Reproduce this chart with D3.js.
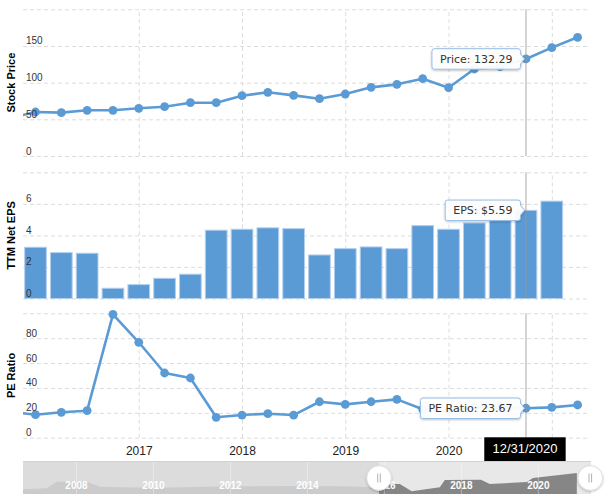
<!DOCTYPE html>
<html><head><meta charset="utf-8">
<script src="https://cdn.jsdelivr.net/npm/d3@7"></script>
<style>body{margin:0;background:#fff} svg{display:block}</style>
</head><body>
<svg id="c" width="608" height="499"></svg>
<script>
// ---------- data ----------
const quarters = ["12/31/2015","3/31/2016","6/30/2016","9/30/2016","12/31/2016","3/31/2017","6/30/2017","9/30/2017","12/31/2017","3/31/2018","6/30/2018","9/30/2018","12/31/2018","3/31/2019","6/30/2019","9/30/2019","12/31/2019","3/31/2020","6/30/2020","9/30/2020","12/31/2020","3/31/2021","6/30/2021"];
const price = [51.5,60.0,59.1,62.3,62.3,65.0,67.2,72.7,72.7,82.2,86.8,82.7,78.1,84.5,93.6,97.7,105.4,93.1,118.6,121.8,132.29,147.7,161.8];
const eps = [2.48,3.25,2.91,2.87,0.65,0.88,1.28,1.54,4.33,4.39,4.48,4.43,2.76,3.16,3.27,3.16,4.62,4.39,4.79,5.02,5.59,6.17,null];
const pe = [20.8,18.5,20.4,21.7,99.2,76.7,52.0,48.0,16.4,18.2,19.3,18.2,28.9,26.8,28.9,30.8,22.8,21.2,24.8,24.3,23.67,24.4,26.3];
const yearLabels = ["2017","2018","2019","2020","2021"];
const priceTicks = [0,50,100,150,200];
const epsTicks = [0,2,4,6,8];
const peTicks = [0,20,40,60,80,100];
const selectedDate = "12/31/2020";
// navigator (long history)
const navYears = [2006.61,2007.23,2007.49,2008.27,2008.61,2009.13,2010.17,2011.99,2013.99,2014.84,2015.62,2015.86,2016.40,2016.71,2017.44,2017.57,2018.51,2018.74,2019.70,2019.86,2021.00];
const navValues = [36,43,93,93,55,51,48,58,61,58,53,76,76,20,51,106,108,76,91,121,159];
const navLabels = [2008,2010,2012,2014,2016,2018,2020];
const navRange = [2015.86, 2021.35];

// ---------- setup ----------
const svg = d3.select("#c");
const SANS = "'Liberation Sans', Arial, sans-serif";
const TIP = "'DejaVu Sans', Verdana, sans-serif";
const BLUE = "#5b9bd5";
const L = 23, R = 588;
const x = d3.scaleLinear().domain([0, 22]).range([9.7, 577.6]);
const sel = quarters.indexOf(selectedDate);
const yearIdx = quarters.map((q,i)=>q.startsWith("3/31/") && +q.slice(-4) >= 2017 ? i : -1).filter(i=>i>=0);
const dateBox = {cx: x(sel) - 1, w: 81.4};

svg.append("defs").html(`
 <clipPath id="pc"><rect x="${L}" y="0" width="${R-L}" height="460"/></clipPath>
 <filter id="sh" x="-50%" y="-50%" width="200%" height="200%"><feDropShadow dx="0" dy="1" stdDeviation="1.2" flood-color="#000" flood-opacity="0.25"/></filter>
`);

const panels = [
  {title:"Stock Price", top:9.3, bottom:156, domain:[0,200], ticks:priceTicks, data:price, type:"line", fmt:v=>"Price: "+v.toFixed(2)},
  {title:"TTM Net EPS", top:172.3, bottom:298.5, domain:[0,8], ticks:epsTicks, data:eps, type:"bar", fmt:v=>"EPS: $"+v.toFixed(2)},
  {title:"PE Ratio", top:313.3, bottom:437.7, domain:[0,100], ticks:peTicks, data:pe, type:"line", fmt:v=>"PE Ratio: "+v.toFixed(2)}
];

const gridLayer = svg.append("g");
const plotLayer = svg.append("g");
const labelLayer = svg.append("g");

panels.forEach((p, pi) => {
  const y = d3.scaleLinear().domain(p.domain).range([p.bottom, p.top]);
  p.y = y;
  // horizontal grid
  const yg = gridLayer.append("g").attr("transform", `translate(${L},0)`)
    .call(d3.axisRight(y).tickValues(p.ticks).tickSize(R-L).tickFormat(""));
  yg.select(".domain").remove();
  yg.selectAll(".tick line").attr("stroke", "#dcdcdc").attr("stroke-dasharray", "4,3");
  // y labels (drawn above the marks)
  const yl = labelLayer.append("g").attr("transform", `translate(${L},0)`)
    .call(d3.axisRight(y).tickValues(p.ticks.filter(v => v !== p.domain[1])).tickSize(0));
  yl.select(".domain").remove();
  yl.selectAll(".tick text").attr("x", 3).attr("dy", -2).attr("text-anchor", "start")
    .attr("font-family", SANS).attr("font-size", 10).attr("fill", "#333");
  // vertical grid
  const xa = gridLayer.append("g").attr("transform", `translate(0,${p.bottom})`)
    .call(d3.axisBottom(x).tickValues(yearIdx).tickSize(-(p.bottom - p.top)).tickFormat(""));
  xa.select(".domain").remove();
  xa.selectAll(".tick line").attr("stroke", "#dcdcdc").attr("stroke-dasharray", "4,3");
  if (pi === 2) {
    // year labels; the one under the date box is hidden by it
    const visible = yearIdx.filter(i => Math.abs(x(i) - dateBox.cx) > dateBox.w / 2 + 14);
    const xl = labelLayer.append("g").attr("transform", `translate(0,${p.bottom})`)
      .call(d3.axisBottom(x).tickValues(visible).tickSize(0)
        .tickFormat(i => yearLabels[yearIdx.indexOf(i)]));
    xl.select(".domain").remove();
    xl.selectAll(".tick text").attr("y", 17.3).attr("dy", 0)
      .attr("font-family", SANS).attr("font-size", 12).attr("fill", "#222");
  }
  // title
  labelLayer.append("text").attr("transform", `translate(14.5,${(p.top+p.bottom)/2}) rotate(-90)`)
    .attr("text-anchor", "middle").attr("font-family", SANS).attr("font-weight", "bold")
    .attr("font-size", 11).attr("fill", "#000").text(p.title);

  const plot = plotLayer.append("g").attr("clip-path", "url(#pc)");
  if (p.type === "bar") {
    const bw = 21.7;
    plot.selectAll("rect").data(p.data.map((v,i)=>({v,i})).filter(d=>d.v!=null)).join("rect")
      .attr("x", d => x(d.i) - bw/2).attr("width", bw)
      .attr("y", d => y(d.v)).attr("height", d => y(0) - y(d.v))
      .attr("fill", BLUE).attr("stroke", "#b3cfee").attr("stroke-width", 1);
  } else {
    plot.append("path").datum(p.data)
      .attr("d", d3.line().x((d,i)=>x(i)).y(d=>y(d)))
      .attr("fill", "none").attr("stroke", BLUE).attr("stroke-width", 2.6).attr("stroke-linejoin", "round");
    plot.selectAll("circle").data(p.data).join("circle")
      .attr("cx", (d,i)=>x(i)).attr("cy", d=>y(d)).attr("r", 4.4).attr("fill", BLUE);
  }
  // crosshair
  plotLayer.append("line").attr("x1", x(sel)).attr("x2", x(sel)).attr("y1", p.top).attr("y2", p.bottom)
    .attr("stroke", "rgba(150,150,150,0.55)").attr("stroke-width", 1.5);
});

// tooltips
panels.forEach(p => {
  const v = p.data[sel];
  const px = x(sel), py = p.y(v);
  const g = svg.append("g");
  const t = g.append("text").attr("font-family", TIP).attr("font-size", 11).attr("fill", "#333")
    .attr("text-anchor", "end").attr("x", px - 13.5).attr("y", py + 4).text(p.fmt(v));
  const tw = t.node().getComputedTextLength();
  const right = px - 5.5, w = tw + 16, h = 20.5, x0 = right - w, y0 = py - h/2, r = 2.5;
  const tipX = px - 1.5;
  const d = `M${x0+r},${y0} H${right-r} Q${right},${y0} ${right},${y0+r} V${py-5} L${tipX},${py} L${right},${py+5} V${y0+h-r} Q${right},${y0+h} ${right-r},${y0+h} H${x0+r} Q${x0},${y0+h} ${x0},${y0+h-r} V${y0+r} Q${x0},${y0} ${x0+r},${y0} Z`;
  g.insert("path", "text").attr("d", d).attr("fill", "rgba(255,255,255,0.94)")
    .attr("stroke", "#95bde6").attr("stroke-width", 1).attr("filter", "url(#sh)");
});

// date label box
{
  const g = svg.append("g");
  g.append("rect").attr("x", dateBox.cx - dateBox.w/2).attr("y", 437.3).attr("width", dateBox.w).attr("height", 23.7).attr("fill", "#000");
  g.append("text").attr("x", dateBox.cx).attr("y", 452.5).attr("text-anchor", "middle")
    .attr("font-family", SANS).attr("font-size", 13).attr("fill", "#fff").text(selectedDate);
}

// navigator
{
  const NT = 461, NB = 494, NL = 23, NR = 591;
  const nx = d3.scaleLinear().domain([2006.61, 2021.29]).range([L, R]);
  const ny = d3.scaleLinear().domain([0, 250]).range([NB, NT]);
  const s0 = nx(navRange[0]), s1 = nx(navRange[1]);
  const defs = svg.select("defs");
  defs.append("clipPath").attr("id", "navL").append("rect").attr("x", NL).attr("y", NT).attr("width", s0 - NL).attr("height", NB - NT);
  defs.append("clipPath").attr("id", "navR").append("rect").attr("x", s0).attr("y", NT).attr("width", NR - s0).attr("height", NB - NT);
  const area = d3.area().x((d,i)=>nx(navYears[i])).y0(NB).y1(d=>ny(d));
  const g = svg.append("g");
  const gl = g.append("g").attr("clip-path", "url(#navL)");
  gl.append("rect").attr("x", NL).attr("y", NT).attr("width", NR-NL).attr("height", NB-NT).attr("fill", "#dcdcdc");
  gl.append("path").datum(navValues).attr("d", area).attr("fill", "#cbcbcb");
  const gr = g.append("g").attr("clip-path", "url(#navR)");
  gr.append("rect").attr("x", NL).attr("y", NT).attr("width", NR-NL).attr("height", NB-NT).attr("fill", "#e8e8e8");
  gr.append("path").datum(navValues).attr("d", area).attr("fill", "#868686");
  g.selectAll("line.ng").data(navLabels).join("line").attr("class", "ng")
    .attr("x1", d=>nx(d)).attr("x2", d=>nx(d)).attr("y1", NT).attr("y2", NB)
    .attr("stroke", "rgba(255,255,255,0.35)").attr("stroke-width", 1);
  g.append("line").attr("x1", NL).attr("x2", NR).attr("y1", NT+0.5).attr("y2", NT+0.5).attr("stroke", "#d2d2d2");
  g.selectAll("text.nl").data(navLabels).join("text").attr("class", "nl")
    .attr("x", d=>nx(d)).attr("y", 488.5).attr("text-anchor", "middle")
    .attr("font-family", SANS).attr("font-size", 10).attr("font-weight", "bold").attr("fill", "#fff").text(d=>d);
  [s0, s1].forEach(hx => {
    const h = g.append("g");
    h.append("circle").attr("cx", hx).attr("cy", 478).attr("r", 12.3).attr("fill", "#fff")
      .attr("stroke", "#e0e0e0").attr("filter", "url(#sh)");
    [-1.3, 1.3].forEach(o => h.append("line").attr("x1", hx+o).attr("x2", hx+o).attr("y1", 473.5).attr("y2", 482.5)
      .attr("stroke", "#b0b0b0").attr("stroke-width", 1));
  });
}
</script>
</body></html>
